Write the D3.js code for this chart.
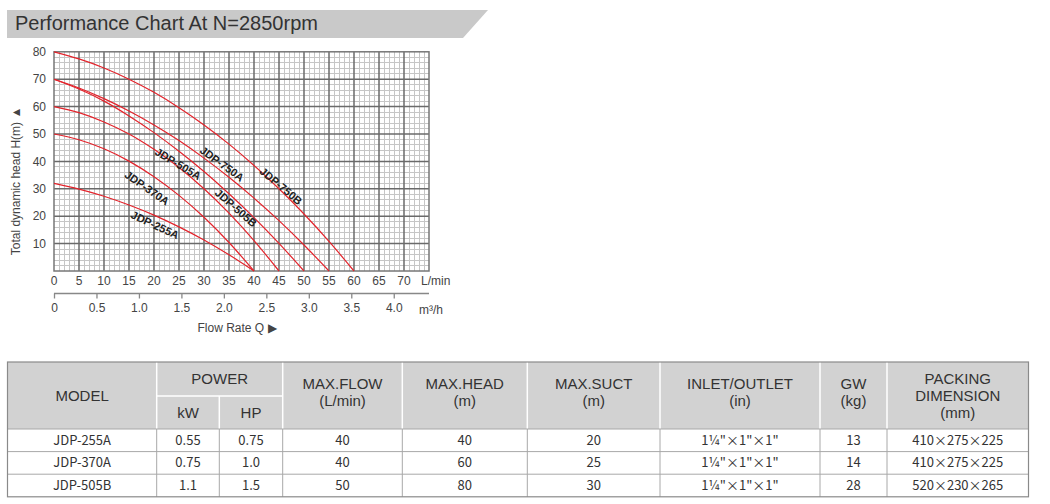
<!DOCTYPE html>
<html><head><meta charset="utf-8">
<script src="https://cdn.jsdelivr.net/npm/d3@7/dist/d3.min.js"></script>
<style>
html,body{margin:0;padding:0;background:#fff;}
svg{display:block;}
</style></head>
<body>
<svg id="c" width="1050" height="504"></svg>
<script>
// ---------- data ----------
const flowTicks = [0,5,10,15,20,25,30,35,40,45,50,55,60,65,70];
const headTicks = [10,20,30,40,50,60,70,80];
const m3hTicks = [0,0.5,1.0,1.5,2.0,2.5,3.0,3.5,4.0];
const flowSteps = [0,5,10,15,20,25,30,35,40,45,50,55,60];
const curveModels = ["JDP-750B","JDP-750A","JDP-505B","JDP-505A","JDP-370A","JDP-255A"];
const head750B = [80,77.4,74.1,70,65.2,59.6,53.3,46.3,38.5,30,20.8,10.8,0];
const head750A = [70,66.8,62.9,58.4,53.3,47.6,41.2,34.2,26.6,18.4,9.5,0];
const head505B = [70,66.4,62.0,56.6,50.5,43.7,36.3,28.2,19.5,10.1,0];
const head505A = [60,57.8,54.4,50,44.4,37.8,30,21.1,11.1,0];
const head370A = [50,47.9,44.6,40.1,34.4,27.6,19.6,10.4,0];
const head255A = [32,29.9,27.3,24.1,20.4,16.1,11.3,5.9,0];
// label anchor (flow, head) and angle for each curve label
const labelFlow = [45.4,33.6,36.4,24.8,18.6,20.2];
const labelHead = [31.0,39.1,23.0,39.1,30.3,16.8];
const labelAngle = [40,36,41,31,35,25];

const tableModels = ["JDP-255A","JDP-370A","JDP-505B"];
const powerKW = ["0.55","0.75","1.1"];
const powerHP = ["0.75","1.0","1.5"];
const maxFlow = ["40","40","50"];
const maxHead = ["40","60","80"];
const maxSuct = ["20","25","30"];
const inletOutlet = ["1¼\"×1\"×1\"","1¼\"×1\"×1\"","1¼\"×1\"×1\""];
const grossWeight = ["13","14","28"];
const packing = ["410×275×225","410×275×225","520×230×265"];

// ---------- drawing ----------
const svg = d3.select("#c");
const FONT = "'Liberation Sans', Arial, sans-serif";

// title band
svg.append("polygon").attr("points","7,10 488,10 463,38 7,38").attr("fill","#c9c9c9");
svg.append("text").attr("x",15).attr("y",30).attr("font-family",FONT).attr("font-size",20)
  .attr("fill","#333").text("Performance Chart At N=2850rpm");

const x = d3.scaleLinear().domain([0,75]).range([54,429]);
const y = d3.scaleLinear().domain([0,80]).range([271,51.8]);
const xm = d3.scaleLinear().domain([0,4.415]).range([54,429]);

const g = svg.append("g");
// minor grid
g.selectAll(".vx").data(d3.range(0,76,1).filter(d=>d%5)).join("line")
  .attr("x1",d=>x(d)).attr("x2",d=>x(d)).attr("y1",y(0)).attr("y2",y(80))
  .attr("stroke","#c6c6c6").attr("stroke-width",1).attr("shape-rendering","crispEdges");
g.selectAll(".hy").data(d3.range(0,81,2).filter(d=>d%10)).join("line")
  .attr("x1",x(0)).attr("x2",x(75)).attr("y1",d=>y(d)).attr("y2",d=>y(d))
  .attr("stroke","#c6c6c6").attr("stroke-width",1).attr("shape-rendering","crispEdges");
// major grid
g.selectAll(".Vx").data(d3.range(5,75,5)).join("line")
  .attr("x1",d=>x(d)).attr("x2",d=>x(d)).attr("y1",y(0)).attr("y2",y(80))
  .attr("stroke","#6a6a6a").attr("stroke-width",1.5);
g.selectAll(".Hy").data(d3.range(10,80,10)).join("line")
  .attr("x1",x(0)).attr("x2",x(75)).attr("y1",d=>y(d)).attr("y2",d=>y(d))
  .attr("stroke","#6a6a6a").attr("stroke-width",1.5);
g.append("rect").attr("x",x(0)).attr("y",y(80)).attr("width",x(75)-x(0)).attr("height",y(0)-y(80))
  .attr("fill","none").attr("stroke","#777").attr("stroke-width",1.5);

// curves
const seriesHeads = [head750B,head750A,head505B,head505A,head370A,head255A];
const line = d3.line().x(d=>x(d[0])).y(d=>y(d[1])).curve(d3.curveMonotoneX);
seriesHeads.forEach(h=>{
  const pts = h.map((v,i)=>[flowSteps[i],v]);
  g.append("path").attr("d",line(pts)).attr("fill","none").attr("stroke","#e3232b").attr("stroke-width",1.2);
});
// curve labels
curveModels.forEach((m,i)=>{
  g.append("text").attr("transform",`translate(${x(labelFlow[i])},${y(labelHead[i])}) rotate(${labelAngle[i]})`)
    .attr("text-anchor","middle").attr("dy","0.35em").attr("font-family",FONT).attr("font-size",11)
    .attr("font-weight","bold").attr("fill","#222").text(m);
});

// axes tick labels
g.selectAll(".yl").data(headTicks).join("text").attr("x",46).attr("y",d=>y(d)).attr("dy","0.35em")
  .attr("text-anchor","end").attr("font-family",FONT).attr("font-size",12).attr("fill","#444").text(d=>d);
g.selectAll(".xl").data(flowTicks).join("text").attr("x",d=>x(d)).attr("y",284.5)
  .attr("text-anchor","middle").attr("font-family",FONT).attr("font-size",12).attr("fill","#444").text(d=>d);
g.append("text").attr("x",421).attr("y",284.5).attr("font-family",FONT).attr("font-size",12).attr("fill","#444").text("L/min");

// m3/h axis
const ax = d3.axisBottom(xm).tickValues(m3hTicks).tickSize(5).tickFormat(d3.format(".1f"));
const ag = svg.append("g").attr("transform","translate(0,293.5)").call(ax);
ag.select(".domain").attr("d",`M${x(0)},0H${x(75)}`).attr("stroke","#888").attr("stroke-width",1.3);
ag.selectAll(".tick line").attr("stroke","#888").attr("stroke-width",1.3);
ag.selectAll(".tick text").attr("font-family",FONT).attr("font-size",12).attr("fill","#444").attr("y",10)
  .text(d=>d===0?"0":d3.format(".1f")(d));
svg.append("text").attr("x",419).attr("y",313.5).attr("font-family",FONT).attr("font-size",12).attr("fill","#444").text("m³/h");

svg.append("text").attr("x",237).attr("y",332).attr("text-anchor","middle").attr("font-family",FONT)
  .attr("font-size",12).attr("fill","#444").text("Flow Rate Q ▶");
svg.append("text").attr("transform","translate(20,181) rotate(-90)").attr("text-anchor","middle")
  .attr("font-family",FONT).attr("font-size",12).attr("fill","#444").text("Total dynamic head H(m) ▲");

// ---------- table ----------
const cols = [7.5,156.7,219.3,282.7,402.3,527.3,660,820,887,1028.5];
const tTop = 362, hMid = 396, hBot = 429, rowH = 22.6;
const tBottom = hBot + rowH*3;
const t = svg.append("g");
t.append("rect").attr("x",cols[0]).attr("y",tTop).attr("width",cols[9]-cols[0]).attr("height",hBot-tTop).attr("fill","#d2d2d2");
// header separators (white)
[1,3,4,5,6,7,8].forEach(i=>t.append("line").attr("x1",cols[i]).attr("x2",cols[i]).attr("y1",tTop).attr("y2",hBot)
  .attr("stroke","#fff").attr("stroke-width",1.5));
t.append("line").attr("x1",cols[2]).attr("x2",cols[2]).attr("y1",hMid).attr("y2",hBot).attr("stroke","#fff").attr("stroke-width",1.5);
t.append("line").attr("x1",cols[1]).attr("x2",cols[3]).attr("y1",hMid).attr("y2",hMid).attr("stroke","#fff").attr("stroke-width",1.5);
// data grid
for(let r=1;r<3;r++){
  t.append("line").attr("x1",cols[0]).attr("x2",cols[9]).attr("y1",hBot+rowH*r).attr("y2",hBot+rowH*r)
    .attr("stroke","#a8a8a8").attr("stroke-width",1);
}
cols.slice(1,9).forEach(cx=>t.append("line").attr("x1",cx).attr("x2",cx).attr("y1",hBot).attr("y2",tBottom)
  .attr("stroke","#a8a8a8").attr("stroke-width",1));
t.append("line").attr("x1",cols[0]).attr("x2",cols[9]).attr("y1",hBot).attr("y2",hBot).attr("stroke","#a8a8a8");
t.append("rect").attr("x",cols[0]).attr("y",tTop).attr("width",cols[9]-cols[0]).attr("height",tBottom-tTop)
  .attr("fill","none").attr("stroke","#8a8a8a").attr("stroke-width",1.2);

const mid = (a,b)=>(cols[a]+cols[b])/2;
function hText(cx, cy, lines){
  const n = lines.length, lh = 17;
  lines.forEach((s,i)=>{
    t.append("text").attr("x",cx).attr("y",cy + (i-(n-1)/2)*lh).attr("dy","0.35em").attr("text-anchor","middle")
      .attr("font-family",FONT).attr("font-size",15).attr("fill","#333").text(s);
  });
}
hText(mid(0,1),(tTop+hBot)/2,["MODEL"]);
hText(mid(1,3),(tTop+hMid)/2,["POWER"]);
hText(mid(1,2),(hMid+hBot)/2,["kW"]);
hText(mid(2,3),(hMid+hBot)/2,["HP"]);
hText(mid(3,4),392,["MAX.FLOW","(L/min)"]);
hText(mid(4,5),392,["MAX.HEAD","(m)"]);
hText(mid(5,6),392,["MAX.SUCT","(m)"]);
hText(mid(6,7),392,["INLET/OUTLET","(in)"]);
hText(mid(7,8),392,["GW","(kg)"]);
hText(mid(8,9),396,["PACKING","DIMENSION","(mm)"]);

const colsData = [tableModels,powerKW,powerHP,maxFlow,maxHead,maxSuct,inletOutlet,grossWeight,packing];
colsData.forEach((arr,ci)=>{
  arr.forEach((v,ri)=>{
    t.append("text").attr("x",mid(ci,ci+1)).attr("y",hBot+rowH*ri+rowH/2).attr("dy","0.35em")
      .attr("text-anchor","middle").attr("font-family","'Noto Sans CJK KR','Noto Sans',sans-serif")
      .attr("font-size",13).attr("fill","#333").text(v);
  });
});
</script>
</body></html>
